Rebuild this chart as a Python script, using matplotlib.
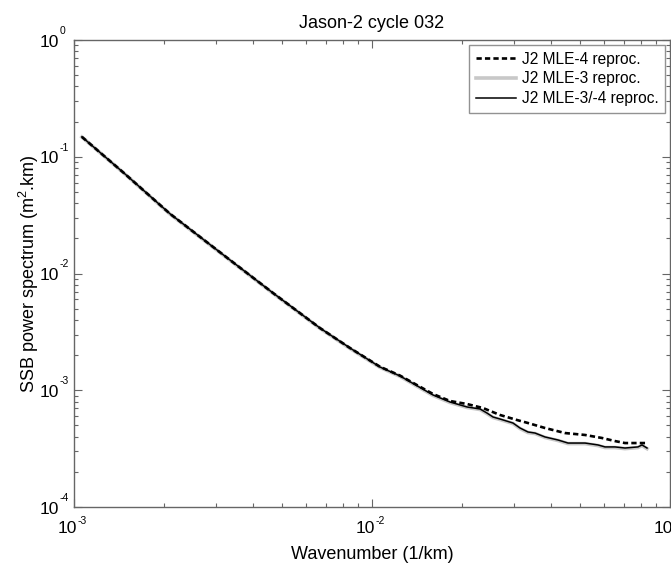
import matplotlib
matplotlib.use("Agg")
import matplotlib.pyplot as plt
from matplotlib.ticker import LogLocator, NullFormatter

plt.rcParams['font.family'] = ['Liberation Sans', 'DejaVu Sans']
plt.rcParams['mathtext.fontset'] = 'custom'
plt.rcParams['mathtext.rm'] = 'Liberation Sans'
plt.rcParams['mathtext.it'] = 'Liberation Sans'

title = "Jason-2 cycle 032"
xlabel = "Wavenumber (1/km)"
ylabel = "SSB power spectrum (m$^2$.km)"
labels = ["J2 MLE-4 reproc.", "J2 MLE-3 reproc.", "J2 MLE-3/-4 reproc."]
x_decades = [-3, -2, -1]
y_decades = [-4, -3, -2, -1, 0]

# Wavenumber (1/km) and spectra (m^2.km)
k_mle34 = [1.063e-3, 1.483e-3, 2.099e-3, 3.338e-3, 4.653e-3, 6.690e-3, 8.437e-3,
           1.0636e-2, 1.2416e-2, 1.602e-2, 1.827e-2, 2.084e-2, 2.304e-2, 2.431e-2,
           2.547e-2, 2.689e-2, 2.972e-2, 3.138e-2, 3.338e-2, 3.524e-2, 3.806e-2,
           4.208e-2, 4.547e-2, 5.186e-2, 5.733e-2, 6.052e-2, 6.538e-2, 7.063e-2,
           7.809e-2, 8.054e-2, 8.372e-2]
p_mle34 = [0.1480, 0.0712, 0.0325, 0.01305, 6.81e-3, 3.41e-3, 2.30e-3,
           1.581e-3, 1.325e-3, 9.11e-4, 7.93e-4, 7.19e-4, 6.91e-4, 6.38e-4,
           5.90e-4, 5.67e-4, 5.24e-4, 4.75e-4, 4.39e-4, 4.30e-4, 3.98e-4,
           3.75e-4, 3.53e-4, 3.53e-4, 3.40e-4, 3.27e-4, 3.27e-4, 3.20e-4,
           3.27e-4, 3.40e-4, 3.20e-4]
p_mle3 = [0.1475, 0.0710, 0.0323, 0.01298, 6.77e-3, 3.39e-3, 2.28e-3,
          1.570e-3, 1.315e-3, 9.02e-4, 7.85e-4, 7.12e-4, 6.84e-4, 6.31e-4,
          5.84e-4, 5.61e-4, 5.19e-4, 4.70e-4, 4.34e-4, 4.26e-4, 3.94e-4,
          3.71e-4, 3.49e-4, 3.49e-4, 3.36e-4, 3.23e-4, 3.23e-4, 3.16e-4,
          3.23e-4, 3.36e-4, 3.16e-4]

k_mle4 = [1.063e-3, 1.483e-3, 2.099e-3, 3.338e-3, 4.653e-3, 6.690e-3, 8.437e-3,
          1.0636e-2, 1.2416e-2, 1.602e-2, 1.827e-2, 2.084e-2, 2.358e-2, 2.689e-2,
          3.066e-2, 3.338e-2, 3.806e-2, 4.443e-2, 5.186e-2, 5.913e-2, 6.538e-2,
          7.063e-2, 7.809e-2, 8.372e-2]
p_mle4 = [0.1480, 0.0712, 0.0325, 0.01305, 6.81e-3, 3.41e-3, 2.30e-3,
          1.590e-3, 1.335e-3, 9.29e-4, 8.09e-4, 7.62e-4, 7.04e-4, 6.14e-4,
          5.56e-4, 5.24e-4, 4.75e-4, 4.30e-4, 4.14e-4, 3.90e-4, 3.67e-4,
          3.53e-4, 3.53e-4, 3.53e-4]

fig = plt.figure(figsize=(6.71, 5.67), dpi=100)
ax = fig.add_axes([74/671, 60/567, 596/671, 467/567])

ax.plot(k_mle4, p_mle4, color='black', lw=1.9, ls=(0, (2.0, 1.2)), label=labels[0], zorder=3)
ax.plot(k_mle34, p_mle3, color='#c8c8c8', lw=2.6, label=labels[1], zorder=2)
ax.plot(k_mle34, p_mle34, color='black', lw=1.1, label=labels[2], zorder=4)

ax.set_xscale('log')
ax.set_yscale('log')
ax.set_xlim(1e-3, 1e-1)
ax.set_ylim(1e-4, 1e0)

ax.xaxis.set_major_locator(LogLocator(base=10, numticks=10))
ax.yaxis.set_major_locator(LogLocator(base=10, numticks=10))
ax.xaxis.set_minor_locator(LogLocator(base=10, subs=range(2, 10), numticks=20))
ax.yaxis.set_minor_locator(LogLocator(base=10, subs=range(2, 10), numticks=20))
for axis in (ax.xaxis, ax.yaxis):
    axis.set_major_formatter(NullFormatter())
    axis.set_minor_formatter(NullFormatter())

spine_col = '#666666'
for s in ax.spines.values():
    s.set_color(spine_col)
    s.set_linewidth(1.0)
ax.tick_params(which='both', direction='in', top=True, right=True, colors=spine_col)
ax.tick_params(which='major', length=6, width=0.8)
ax.tick_params(which='minor', length=3, width=0.8)

# MATLAB-style tick labels: "10" with a small exponent
base_fs = 12.5
exp_fs = 7.5
for d in x_decades:
    ax.annotate("10", xy=(10.0 ** d, 0), xycoords=('data', 'axes fraction'),
                xytext=(2.5, -10), textcoords='offset points',
                ha='right', va='top', fontsize=base_fs, annotation_clip=False)
    ax.annotate("%d" % d, xy=(10.0 ** d, 0), xycoords=('data', 'axes fraction'),
                xytext=(2.5, -6.5), textcoords='offset points',
                ha='left', va='top', fontsize=exp_fs, annotation_clip=False)
for d in y_decades:
    ax.annotate("10", xy=(0, 10.0 ** d), xycoords=('axes fraction', 'data'),
                xytext=(-10.5, -1.5), textcoords='offset points',
                ha='right', va='center', fontsize=base_fs, annotation_clip=False)
    ax.annotate("%d" % d, xy=(0, 10.0 ** d), xycoords=('axes fraction', 'data'),
                xytext=(-10.5, 3), textcoords='offset points',
                ha='left', va='bottom', fontsize=exp_fs, annotation_clip=False)

ax.set_title(title, fontsize=13, pad=9)
ax.set_xlabel(xlabel, fontsize=13)
ax.xaxis.set_label_coords(0.5, -0.083)
ax.set_ylabel(ylabel, fontsize=13)
ax.yaxis.set_label_coords(-0.056, 0.5)

leg = ax.legend(loc='upper right', fontsize=11.2, frameon=True, fancybox=False,
                edgecolor='#777777', handlelength=2.6, handletextpad=0.35,
                borderaxespad=0.3, labelspacing=0.3, borderpad=0.45)
leg.get_frame().set_linewidth(1.0)

fig.savefig('out.png', dpi=100)
